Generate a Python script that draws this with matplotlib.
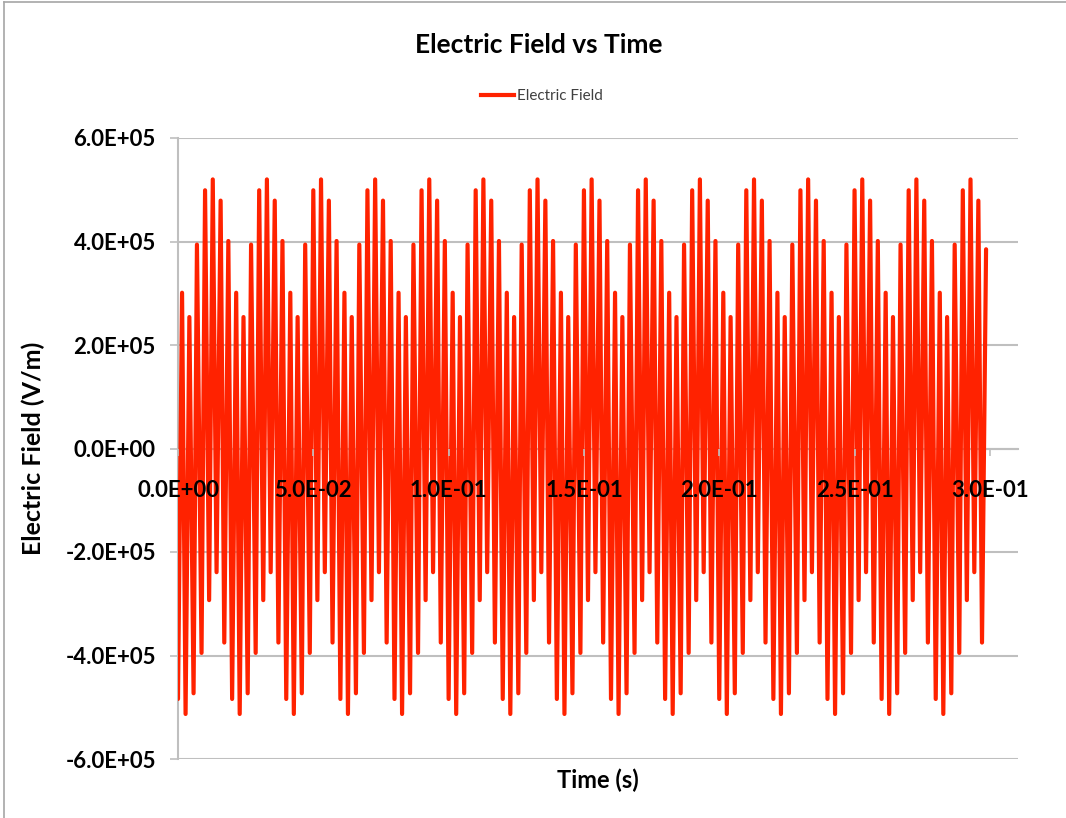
import numpy as np
import matplotlib
matplotlib.use('Agg')
import matplotlib.pyplot as plt
from matplotlib.lines import Line2D
from matplotlib.ticker import FuncFormatter

plt.rcParams['font.family'] = ['Lato', 'DejaVu Sans']

# one repeat of the waveform, extrema (time in ms from start of repeat)
cycle_t_ms = [0.0, 1.5, 2.8, 4.2, 5.75, 7.0, 8.7, 10.0, 11.5, 12.85, 14.25, 15.75, 17.1, 18.6]
cycle_field = [-4.84e5, 3.01e5, -5.13e5, 2.54e5, -4.73e5, 3.94e5, -3.95e5,
               4.99e5, -2.93e5, 5.20e5, -2.39e5, 4.79e5, -3.75e5, 4.01e5]
repeat_period = 0.02  # s, the envelope repeats every 0.02 s
n_repeats = 15
last_field = 3.85e5  # the final sample is a bit lower than the others

x_ticks = [0.0, 0.05, 0.10, 0.15, 0.20, 0.25, 0.30]
y_ticks = [-6e5, -4e5, -2e5, 0, 2e5, 4e5, 6e5]

time = np.concatenate([np.array(cycle_t_ms) / 1000 + k * repeat_period for k in range(n_repeats)])
field = np.tile(cycle_field, n_repeats)
field[-1] = last_field

grey = '#BFBFBF'
red = '#FF2200'

fig = plt.figure(figsize=(10.66, 8.18), dpi=100)
ax = fig.add_axes([178 / 1066, 1 - 759 / 818, 840 / 1066, 621 / 818])
ax.set_axisbelow(False)  # tick labels sit on top of the trace

for y in y_ticks:
    ax.axhline(y, color=grey, lw=1.5, zorder=0.5)

ax.plot(time, field, color=red, lw=3.0, solid_joinstyle='round',
        solid_capstyle='round', label='Electric Field', zorder=2)

ax.set_xlim(0, 0.3104)
ax.set_ylim(-6e5, 6e5)
ax.set_xticks(x_ticks)
ax.set_yticks(y_ticks)
ax.xaxis.set_major_formatter(FuncFormatter(lambda v, p: f'{v:.1E}'))
ax.yaxis.set_major_formatter(FuncFormatter(lambda v, p: f'{v:.1E}'))

ax.spines['top'].set_visible(False)
ax.spines['right'].set_visible(False)
ax.spines['bottom'].set_position(('data', 0))
for side in ['bottom', 'left']:
    ax.spines[side].set_color(grey)
    ax.spines[side].set_linewidth(1.5)
    ax.spines[side].set_zorder(0.6)

ax.tick_params(axis='y', direction='out', length=6, width=1.2, color=grey,
               pad=10, labelsize=16)
ax.tick_params(axis='x', direction='out', length=5, width=1.2, color=grey,
               pad=18, labelsize=16)
for lab in ax.get_xticklabels() + ax.get_yticklabels():
    lab.set_fontweight('bold')

ax.set_ylabel('Electric Field (V/m)', fontsize=18, fontweight='bold')
ax.yaxis.set_label_coords((45 - 178) / 840, 0.5)
ax.set_xlabel('Time (s)', fontsize=17, fontweight='bold', va='center')
ax.xaxis.set_label_coords(0.5, (759 - 780) / 621)

fig.text(539 / 1066, 1 - 45 / 818, 'Electric Field vs Time', fontsize=19,
         fontweight='bold', ha='center', va='center')

leg = fig.legend(handles=[Line2D([], [], color=red, lw=3.0)], labels=['Electric Field'],
                 loc='center', bbox_to_anchor=(542 / 1066, 1 - 96 / 818),
                 frameon=False, fontsize=11, handlelength=2.2, handletextpad=0.2)
for t in leg.get_texts():
    t.set_color('#404040')

# chart frame, only the top and left edges are in the crop
fig.add_artist(Line2D([4 / 1066, 4 / 1066], [0, 1 - 2 / 818], color='#A6A6A6', lw=1.2))
fig.add_artist(Line2D([4 / 1066, 1], [1 - 2 / 818, 1 - 2 / 818], color='#A6A6A6', lw=1.2))

fig.savefig('out.png', dpi=100)
